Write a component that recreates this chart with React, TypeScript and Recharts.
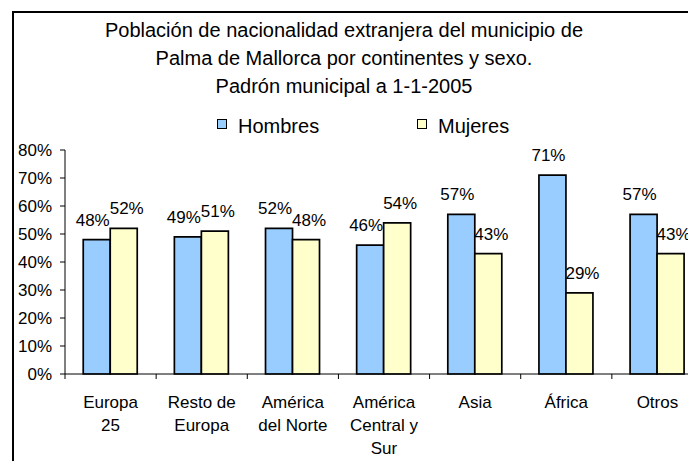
import { BarChart, Bar, XAxis, YAxis, LabelList } from 'recharts';

const CATEGORIES = ['Europa 25', 'Resto de Europa', 'América del Norte', 'América Central y Sur', 'Asia', 'África', 'Otros'];
const CATEGORY_LINES: string[][] = [
  ['Europa', '25'], ['Resto de', 'Europa'], ['América', 'del Norte'], ['América', 'Central y', 'Sur'],
  ['Asia'], ['África'], ['Otros'],
];
const HOMBRES = [48, 49, 52, 46, 57, 71, 57];
const MUJERES = [52, 51, 48, 54, 43, 29, 43];
const Y_TICKS = [0, 10, 20, 30, 40, 50, 60, 70, 80];
const TITLE = [
  'Población de nacionalidad extranjera del municipio de',
  'Palma de Mallorca por continentes y sexo.',
  'Padrón municipal a 1-1-2005',
];
const SERIES = [
  { key: 'hombres', name: 'Hombres', color: '#99CCFF', dx: -4 },
  { key: 'mujeres', name: 'Mujeres', color: '#FFFFCC', dx: 3 },
];

const data = CATEGORIES.map((c, i) => ({ name: c, hombres: HOMBRES[i], mujeres: MUJERES[i] }));

const FONT = '"Liberation Sans", Arial, sans-serif';
const W = 720, H = 461;
const M = { top: 150, right: 17, bottom: 0, left: 0 };
const Y_W = 65, X_H = 87;
const HALF_BAND = (W - M.right - Y_W) / CATEGORIES.length / 2;

// Excel-style category axis: ticks at the band edges, multi-line labels
const CategoryTick = (props: any) => {
  const { x, y, index } = props;
  const lines = CATEGORY_LINES[index] || [];
  const bx = x - HALF_BAND;
  return (
    <g>
      <line x1={bx} y1={y} x2={bx} y2={y + 5} stroke="#000" strokeWidth={1} />
      <text x={x} y={y} textAnchor="middle" fontSize={17} fontFamily={FONT} fill="#000">
        {lines.map((l, i) => (
          <tspan key={i} x={x} y={y + 34 + i * 23}>{l}</tspan>
        ))}
      </text>
    </g>
  );
};

export default function App() {
  return (
    <div style={{ position: 'fixed', left: 0, top: 0, width: 688, height: 461, overflow: 'hidden', background: '#fff', fontFamily: FONT }}>
      <div style={{ position: 'absolute', left: 12, top: 11, width: 1000, height: 1000, border: '2px solid #000', boxSizing: 'border-box' }} />
      <div style={{ position: 'absolute', left: 0, top: 15.6, width: 688, textAlign: 'center', fontSize: 20, lineHeight: '28.3px', color: '#000' }}>
        {TITLE.map((t) => <div key={t}>{t}</div>)}
      </div>
      {SERIES.map((s, i) => (
        <div key={s.key}>
          <div style={{ position: 'absolute', left: i === 0 ? 217 : 417, top: 119, width: 10, height: 10, background: s.color, border: '1.5px solid #000', boxSizing: 'border-box' }} />
          <div style={{ position: 'absolute', left: i === 0 ? 238 : 438, top: 115.8, fontSize: 20, lineHeight: '20px', color: '#000', whiteSpace: 'nowrap' }}>{s.name}</div>
        </div>
      ))}
      <div style={{ position: 'absolute', left: 0, top: 0 }}>
        <BarChart width={W} height={H} data={data} margin={M} barCategoryGap="20%" barGap={0}>
          <XAxis
            dataKey="name"
            height={X_H}
            interval={0}
            tickSize={0}
            tickMargin={0}
            tickLine={false}
            axisLine={{ stroke: '#000', strokeWidth: 1 }}
            tick={<CategoryTick />}
          />
          <YAxis
            width={Y_W}
            domain={[0, 80]}
            ticks={Y_TICKS}
            tickFormatter={(v: number) => `${v}%`}
            tickSize={5}
            tickMargin={8}
            axisLine={{ stroke: '#000', strokeWidth: 1 }}
            tickLine={{ stroke: '#000', strokeWidth: 1 }}
            tick={{ fill: '#000', fontSize: 17, fontFamily: FONT }}
          />
          {SERIES.map((s) => (
            <Bar key={s.key} dataKey={s.key} name={s.name} fill={s.color} stroke="#000" strokeWidth={1.7} isAnimationActive={false}>
              <LabelList dataKey={s.key} position="top" offset={14} dx={s.dx} formatter={(v: any) => `${v}%`} style={{ fill: '#000', fontSize: 17, fontFamily: FONT }} />
            </Bar>
          ))}
        </BarChart>
      </div>
    </div>
  );
}
